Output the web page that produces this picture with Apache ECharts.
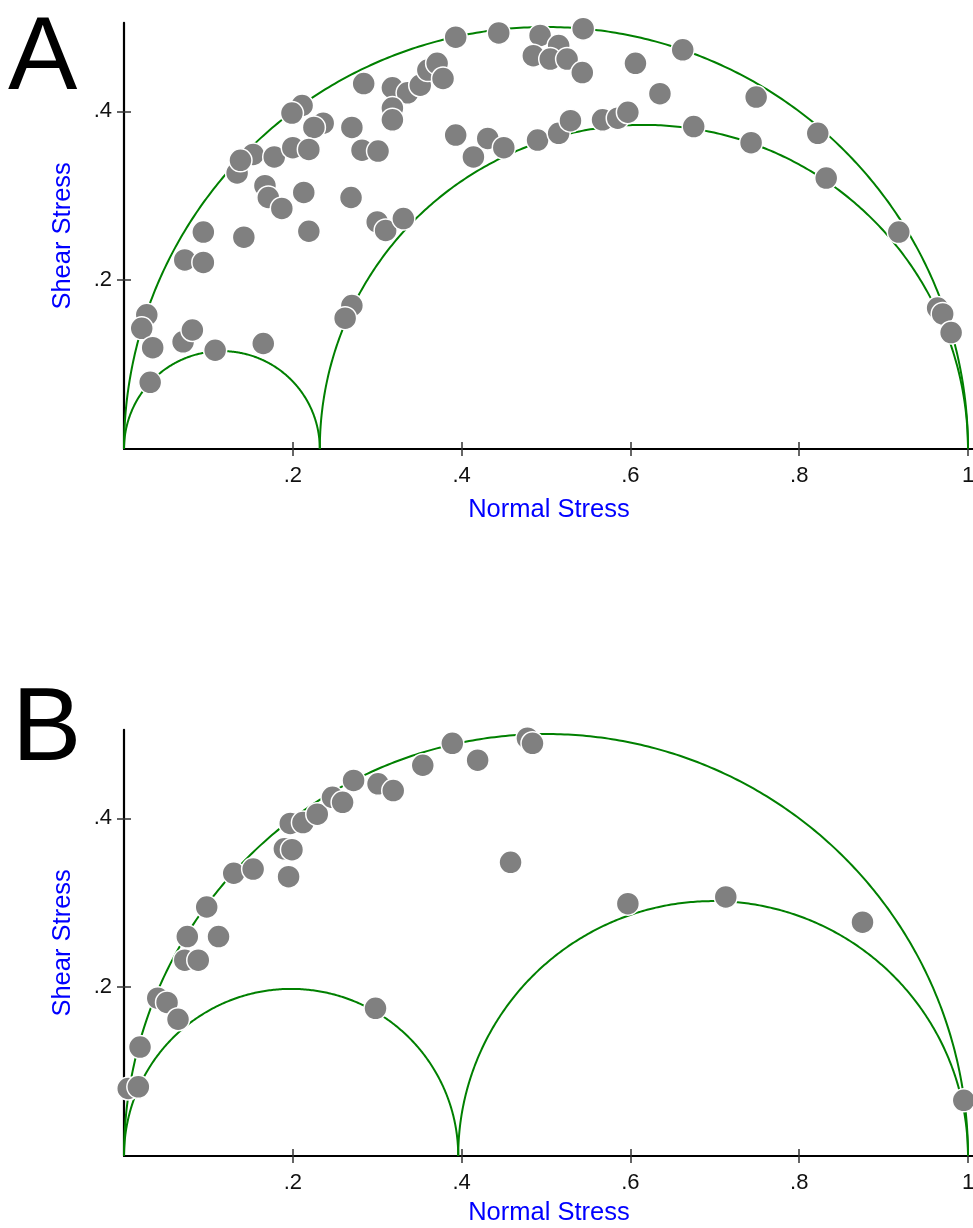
<!DOCTYPE html>
<html>
<head>
<meta charset="utf-8">
<script src="https://cdn.jsdelivr.net/npm/echarts@6/dist/echarts.min.js"></script>
<style>
html,body{margin:0;padding:0;background:#fff;}
#chart{width:973px;height:1228px;}
</style>
</head>
<body>
<div id="chart"></div>
<script>
// Panel A points
const aNormal = [0.211,0.199,0.236,0.225,0.153,0.178,0.134,0.138,0.200,0.219,0.167,0.171,0.187,0.213,0.094,0.142,0.219,0.072,0.094,0.027,0.021,0.034,0.070,0.081,0.108,0.165,0.031,0.393,0.444,0.493,0.485,0.515,0.505,0.525,0.544,0.543,0.606,0.284,0.318,0.336,0.351,0.360,0.371,0.378,0.318,0.318,0.270,0.282,0.301,0.393,0.431,0.414,0.450,0.490,0.515,0.529,0.567,0.585,0.597,0.269,0.300,0.310,0.331,0.270,0.262,0.662,0.635,0.749,0.675,0.743,0.822,0.832,0.918,0.964,0.970,0.980];
const aShear  = [0.407,0.398,0.386,0.381,0.349,0.346,0.327,0.342,0.357,0.355,0.312,0.298,0.285,0.304,0.257,0.251,0.258,0.224,0.221,0.159,0.143,0.120,0.127,0.141,0.117,0.125,0.079,0.488,0.493,0.490,0.466,0.478,0.462,0.462,0.498,0.446,0.457,0.433,0.428,0.422,0.431,0.449,0.457,0.439,0.404,0.390,0.381,0.354,0.353,0.372,0.368,0.346,0.357,0.366,0.374,0.389,0.390,0.392,0.399,0.298,0.269,0.259,0.273,0.170,0.155,0.473,0.421,0.417,0.382,0.363,0.374,0.321,0.257,0.167,0.160,0.138];
// Panel B points
const bNormal = [0.005,0.017,0.019,0.040,0.051,0.064,0.072,0.088,0.075,0.112,0.098,0.130,0.153,0.195,0.190,0.199,0.197,0.212,0.229,0.247,0.259,0.272,0.301,0.319,0.354,0.389,0.419,0.478,0.484,0.458,0.597,0.713,0.875,0.995,0.298];
const bShear  = [0.080,0.082,0.129,0.187,0.182,0.162,0.232,0.232,0.260,0.260,0.295,0.335,0.340,0.331,0.364,0.363,0.394,0.395,0.405,0.425,0.419,0.445,0.441,0.433,0.463,0.489,0.469,0.495,0.489,0.348,0.299,0.307,0.277,0.066,0.175];
// Mohr circles: [sigma3, sigma1]
const circlesA = [[0,1],[0,0.232],[0.232,1]];
const circlesB = [[0,1],[0,0.396],[0.396,1]];
const xTicks = [0.2,0.4,0.6,0.8,1];
const yTicks = [0.2,0.4];

const FONT = "'Liberation Sans', Arial, sans-serif";
const GREEN = '#008000';
const SCALE = 844;
const XMAX = 1.007, YMAX = 0.505;
const fmt = v => (Math.abs(v-1)<1e-9 ? '1' : String(+v.toFixed(2)).replace(/^0/, ''));

function pairs(xs, ys){ return xs.map((x,i)=>[x, ys[i]]); }

function circleRender(params, api){
  const s3 = api.value(0), s1 = api.value(1);
  const c = (s3+s1)/2, r = (s1-s3)/2;
  const pts = [];
  for (let i=0;i<=360;i++){
    const t = Math.PI*i/360;
    pts.push(api.coord([c + r*Math.cos(t), r*Math.sin(t)]));
  }
  return {type:'polyline', shape:{points:pts}, style:{stroke:GREEN, lineWidth:2, fill:null}};
}

const grids = [
  {left:124, top:449 - YMAX*SCALE, width:XMAX*SCALE, height:YMAX*SCALE, outerBoundsMode:'none', containLabel:false},
  {left:124, top:1156 - YMAX*SCALE, width:XMAX*SCALE, height:YMAX*SCALE, outerBoundsMode:'none', containLabel:false}
];

function xAxes(gi, gap){
  return [
    {gridIndex:gi, type:'value', min:0, max:XMAX,
     axisLine:{show:true, onZero:false, lineStyle:{color:'#000', width:2.2}},
     axisTick:{show:true, length:7, customValues:xTicks, lineStyle:{color:'#333', width:1.5}},
     axisLabel:{show:true, customValues:xTicks, formatter:fmt, margin:16, fontSize:22, color:'#111', fontFamily:FONT},
     splitLine:{show:false},
     name:'Normal Stress', nameLocation:'middle', nameGap:gap,
     nameTextStyle:{color:'#0000ff', fontSize:25.5, fontFamily:FONT}},
    {gridIndex:gi, type:'value', min:0, max:XMAX, position:'bottom',
     axisLine:{show:false},
     axisTick:{show:true, inside:true, length:7, customValues:xTicks, lineStyle:{color:'#333', width:1.5}},
     axisLabel:{show:false}, splitLine:{show:false}}
  ];
}
function yAxes(gi){
  return [
    {gridIndex:gi, type:'value', min:0, max:YMAX,
     axisLine:{show:true, onZero:false, lineStyle:{color:'#000', width:2.2}},
     axisTick:{show:true, length:7, customValues:yTicks, lineStyle:{color:'#333', width:1.5}},
     axisLabel:{show:true, customValues:yTicks, formatter:fmt, margin:12, fontSize:22, color:'#111', fontFamily:FONT},
     splitLine:{show:false},
     name:'Shear Stress', nameLocation:'middle', nameGap:48,
     nameTextStyle:{color:'#0000ff', fontSize:25.5, fontFamily:FONT}},
    {gridIndex:gi, type:'value', min:0, max:YMAX, position:'left',
     axisLine:{show:false},
     axisTick:{show:true, inside:true, length:7, customValues:yTicks, lineStyle:{color:'#333', width:1.5}},
     axisLabel:{show:false}, splitLine:{show:false}}
  ];
}

const pointStyle = {color:'#808080', borderColor:'#ffffff', borderWidth:1.5, opacity:1};

const option = {
  animation:false,
  backgroundColor:'#ffffff',
  grid: grids,
  xAxis: [...xAxes(0, 48), ...xAxes(1, 44)],
  yAxis: [...yAxes(0), ...yAxes(1)],
  graphic: [
    {type:'text', left:8, top:8, style:{text:'A', fontSize:104, fontFamily:FONT, fill:'#000'}},
    {type:'text', left:12, top:679, style:{text:'B', fontSize:104, fontFamily:FONT, fill:'#000'}}
  ],
  series: [
    {type:'custom', xAxisIndex:0, yAxisIndex:0, data:circlesA, renderItem:circleRender, z:1, silent:true},
    {type:'scatter', xAxisIndex:0, yAxisIndex:0, data:pairs(aNormal,aShear), symbol:'circle', symbolSize:23, itemStyle:pointStyle, z:3},
    {type:'custom', xAxisIndex:2, yAxisIndex:2, data:circlesB, renderItem:circleRender, z:1, silent:true},
    {type:'scatter', xAxisIndex:2, yAxisIndex:2, data:pairs(bNormal,bShear), symbol:'circle', symbolSize:23, itemStyle:pointStyle, z:3}
  ]
};

const chart = echarts.init(document.getElementById('chart'), null, {renderer:'canvas'});
chart.setOption(option);
</script>
</body>
</html>
